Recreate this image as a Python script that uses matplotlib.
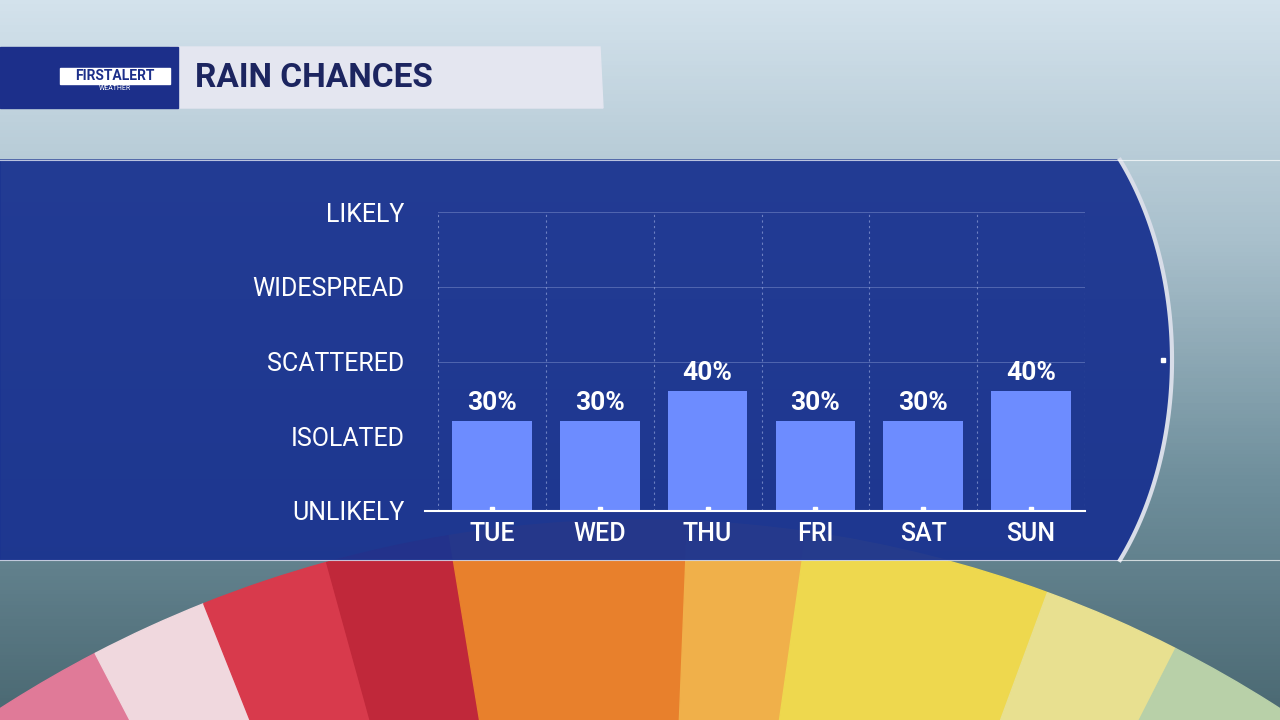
"""Rain chances TV graphic."""

import numpy as np
import matplotlib.pyplot as plt
from matplotlib.colors import LinearSegmentedColormap
from matplotlib.patches import Rectangle, Wedge, Polygon

DAYS = ["TUE", "WED", "THU", "FRI", "SAT", "SUN"]
CHANCE = [30, 30, 40, 30, 30, 40]
LEVEL_TICKS = [0, 25, 50, 75, 100]
LEVEL_LABELS = ["UNLIKELY", "ISOLATED", "SCATTERED", "WIDESPREAD", "LIKELY"]

BAR_COLOR = "#6d8cff"
FONT = "Roboto"

fig = plt.figure(figsize=(12.8, 7.2), dpi=100)

# background canvas in pixel coordinates
bg = fig.add_axes([0, 0, 1, 1])
bg.set_xlim(0, 1280)
bg.set_ylim(720, 0)
bg.axis("off")

sky = np.linspace(0, 1, 200)[:, None] * np.ones((1, 2))
sky_cmap = LinearSegmentedColormap.from_list(
    "sky", ["#d3e2ec", "#a9c0cc", "#6f8f9c", "#4a6872"])
bg.imshow(sky, extent=(0, 1280, 720, 0), cmap=sky_cmap, aspect="auto", zorder=0)

# umbrella stripes at the bottom
stripe_colors = ["#e07a98", "#f0d8de", "#d83a4c", "#c0283a", "#e8802c", "#f0b04a",
                 "#eed84e", "#e8e090", "#b8d0a8"]
edges = [232.9, 242.5, 248.3, 254.6, 260.7, 272.3, 278.1, 290.2, 297.0, 307.8]
for c, a0, a1 in zip(stripe_colors, edges[:-1], edges[1:]):
    bg.add_patch(Wedge((640, 1700), 1180, a0, a1, color=c, zorder=1))

# dark blue panel with curved right edge
cx, a, b = 968, 204, 300
ys = np.linspace(160, 560, 80)
xs = cx + a * np.sqrt(np.clip(1 - ((ys - 360) / b) ** 2, 0, 1))
panel = np.vstack([[(0, 160)], np.column_stack([xs, ys]), [(0, 560)]])
bg.add_patch(Polygon(panel, closed=True, color="#1a3390", alpha=0.95, zorder=2))
bg.plot(xs, ys, color="#d8dde8", lw=3, zorder=3)
bg.plot([1163], [360], marker="s", color="white", ms=3, zorder=4)
bg.plot([0, 1280], [160, 160], color="white", lw=0.8, alpha=0.7, zorder=3)
bg.plot([0, 1280], [560, 560], color="white", lw=0.8, alpha=0.7, zorder=3)

# header banner
bg.add_patch(Polygon([(170, 47), (600, 47), (603, 108), (170, 108)],
                     color="#e4e6f0", zorder=4))
bg.add_patch(Polygon([(0, 47), (178, 47), (178, 108), (0, 108)],
                     color="#1c2f8a", zorder=5))
bg.add_patch(Rectangle((60, 68), 110, 16, color="white", zorder=6))
bg.text(115, 76, "FIRSTALERT", color="#1c2f8a", fontsize=10, fontweight="bold",
        ha="center", va="center", family=FONT, zorder=7)
bg.text(115, 89, "WEATHER", color="white", fontsize=5, ha="center", va="center",
        family=FONT, zorder=7)
bg.text(195, 78, "RAIN CHANCES", color="#1c2560", fontsize=24, fontweight="bold",
        ha="left", va="center", family=FONT, zorder=7)

# chart axes: x 438..1085 px, y 212..511 px
ax = fig.add_axes([438 / 1280, 1 - 511 / 720, (1085 - 438) / 1280, (511 - 212) / 720])
ax.patch.set_alpha(0)
ax.set_xlim(-0.5, 5.5)
ax.set_ylim(0, 100)
x = np.arange(len(DAYS))
ax.bar(x, CHANCE, width=0.74, color=BAR_COLOR, zorder=3)
for xi, v in zip(x, CHANCE):
    ax.text(xi, v + 2, f"{v}%", color="white", fontsize=19, fontweight="bold",
            ha="center", va="bottom", family=FONT)
    ax.plot([xi], [0.8], marker="s", color="white", ms=3, zorder=4)

for bnd in np.arange(-0.5, 6, 1):
    ax.axvline(bnd, color="#8fa0d8", ls=(0, (2, 3)), lw=0.8, alpha=0.7)
for t in LEVEL_TICKS[2:]:
    ax.axhline(t, color="#8fa0d8", lw=0.6, alpha=0.5)
ax.axhline(0, xmin=-0.02, color="white", lw=1.5, clip_on=False, zorder=5)

ax.set_yticks(LEVEL_TICKS)
ax.set_yticklabels(LEVEL_LABELS)
ax.set_xticks(x)
ax.set_xticklabels(DAYS)
ax.tick_params(length=0, colors="white", labelsize=18, pad=8)
ax.tick_params(axis="y", pad=24)
for lab in ax.get_xticklabels():
    lab.set_family(FONT)
    lab.set_fontweight("medium")
for lab in ax.get_yticklabels():
    lab.set_family(FONT)
for s in ax.spines.values():
    s.set_visible(False)

fig.savefig("out.png", dpi=100)
